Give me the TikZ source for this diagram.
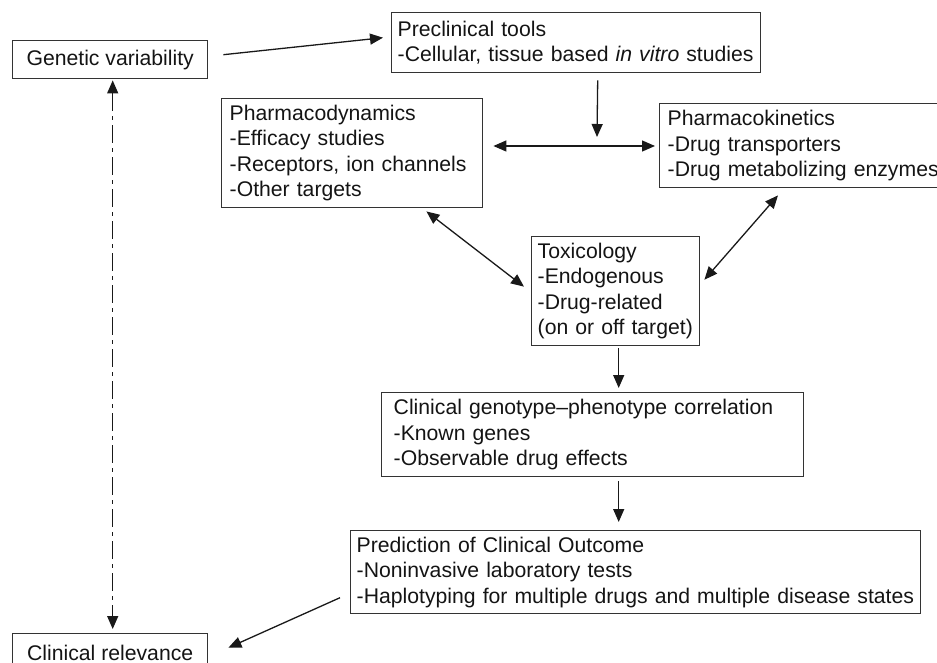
\documentclass[tikz,border=0pt]{standalone}
\usepackage{fontspec}
\setmainfont{Liberation Sans}
\usetikzlibrary{arrows.meta,calc}
\begin{document}
\begin{tikzpicture}[x=1pt,y=-1pt]
\tikzset{
  bx/.style={draw=black!80, line width=1.4pt, anchor=north west, align=left, inner ysep=0pt,
    font=\fontsize{21.2}{25.5}\selectfont, text=black!92},
  arr/.style={line width=1.3pt, draw=black!90, -{Triangle[length=13pt,width=11pt]}},
  darr/.style={line width=1.3pt, draw=black!90, {Triangle[length=13pt,width=11pt]}-{Triangle[length=13pt,width=11pt]}},
}
\path[use as bounding box] (0,0) rectangle (937,663);
\clip (0,0) rectangle (937,663);

\node[bx, align=center, minimum width=195, minimum height=38, inner xsep=0] (gv) at (12,40) {Genetic variability};
\node[bx, text width=357, inner xsep=6, minimum height=60] (pre) at (391,12)
  {Preclinical tools\\-Cellular, tissue based \textit{in vitro} studies};
\node[bx, text width=245, inner xsep=8, minimum height=109] (pd) at (221,98)
  {Pharmacodynamics\\-Efficacy studies\\-Receptors, ion channels\\-Other targets};
\node[bx, text width=284, inner xsep=8, minimum height=84] (pk) at (659,103)
  {Pharmacokinetics\\-Drug transporters\\-Drug metabolizing enzymes};
\node[bx, text width=156, inner xsep=6, minimum height=109] (tox) at (531,236)
  {Toxicology\\-Endogenous\\-Drug-related\\(on or off target)};
\node[bx, text width=398, inner xsep=12, minimum height=84] (geno) at (381,392)
  {Clinical genotype--phenotype correlation\\-Known genes\\-Observable drug effects};
\node[bx, text width=558, inner xsep=6, minimum height=83] (pred) at (350,530)
  {Prediction of Clinical Outcome\\-Noninvasive laboratory tests\\-Haplotyping for multiple drugs and multiple disease states};
\node[bx, align=center, minimum width=195, minimum height=38, inner xsep=0] (cr) at (12,633) {Clinical relevance};

\coordinate (mid) at (597,146);
\draw[arr] ($(gv.east)+(15,-5)$) -- ($(pre.west)+(-8,-5)$);
\draw[arr] ($(pre.south)+(21.5,7)$) -- ($(mid)+(0,-9)$);
\draw[darr] ($(pd.east|-mid)+(10,0)$) -- ($(pk.west|-mid)+(-4,0)$);
\draw[darr] ($(pd.south east)+(-57,3)$) -- ($(tox.west)+(-7,-4.5)$);
\draw[darr] ($(pk.south west)+(119,7)$) -- ($(tox.east)+(4,-11.5)$);
\draw[arr] ($(tox.south)+(3,2)$) coordinate (t1) -- ($(t1|-geno.north)+(0,-4)$);
\draw[arr] ($(geno.south)+(26,4)$) coordinate (g1) -- ($(g1|-pred.north)+(0,-8)$);
\draw[arr] ($(pred.west)+(-10,25.5)$) -- ($(cr.east)+(20,-5)$);
\draw[darr, dash pattern=on 18pt off 5pt on 4pt off 5pt] ($(gv.south)+(2.5,1)$) -- ($(cr.north)+(2.5,-4)$);
\end{tikzpicture}
\end{document}
